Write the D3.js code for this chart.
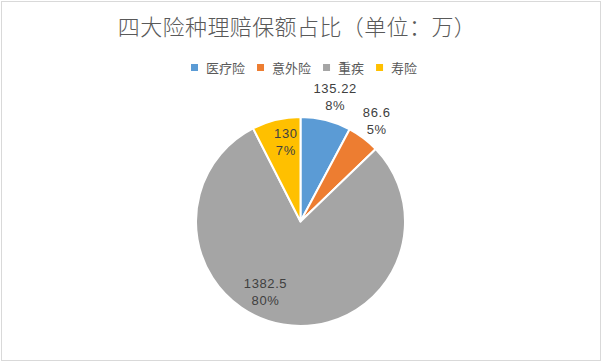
<!DOCTYPE html>
<html>
<head>
<meta charset="utf-8">
<script src="https://cdn.jsdelivr.net/npm/d3@7"></script>
<style>
  body { margin: 0; background: #fff; }
  svg { display: block; font-family: "Noto Sans CJK SC", "Microsoft YaHei", sans-serif; }
</style>
</head>
<body>
<div id="chart"></div>
<script>
// chart data
const categories = ["医疗险", "意外险", "重疾", "寿险"];
const values = [135.22, 86.6, 1382.5, 130];
const percentLabels = ["8%", "5%", "80%", "7%"];
const colors = ["#5B9BD5", "#ED7D31", "#A5A5A5", "#FFC000"];

// label placement (radius as fraction of pie radius, angle shift in degrees)
const labelPlace = [
  {r: 1.24, da: 1.5},
  {r: 1.21, da: 0},
  {r: 0.75, da: 17},
  {r: 0.77, da: 3}
];

const width = 602, height = 362;
const cx = 300.5, cy = 221.5, radius = 104.5;

let svg = d3.select("#chart")
  .append("svg")
    .attr("width", width)
    .attr("height", height);

// outer frame
svg.append("rect")
  .attr("x", 1.5).attr("y", 1.5)
  .attr("width", width - 3).attr("height", height - 3)
  .attr("fill", "#fff")
  .attr("stroke", "#d9d9d9")
  .attr("stroke-width", 1);

// title
svg.append("text")
  .attr("x", width / 2 - 4)
  .attr("y", 35)
  .attr("text-anchor", "middle")
  .attr("fill", "#595959")
  .attr("font-size", "22px")
  .attr("font-weight", 300)
  .attr("letter-spacing", "0.4px")
  .text("四大险种理赔保额占比（单位：万）");

// legend
let legend = svg.append("g");
let lx = 0;
categories.forEach(function(c, i) {
  let item = legend.append("g").attr("transform", "translate(" + lx + ",0)");
  item.append("rect")
    .attr("x", 0).attr("y", 64)
    .attr("width", 7).attr("height", 7)
    .attr("fill", colors[i]);
  let t = item.append("text")
    .attr("x", 15).attr("y", 73)
    .attr("fill", "#595959")
    .attr("font-size", "13px")
    .text(c);
  lx += 15 + t.node().getComputedTextLength() + 12;
});
legend.attr("transform", "translate(191,0)");

// pie
let pie = d3.pie().sort(null).value(d => d);
let arcs = pie(values);
let arc = d3.arc().innerRadius(0).outerRadius(radius);

let g = svg.append("g").attr("transform", "translate(" + cx + "," + cy + ")");

g.selectAll("path")
  .data(arcs)
  .enter().append("path")
    .attr("d", arc)
    .attr("fill", (d, i) => colors[i])
    .attr("stroke", "#fff")
    .attr("stroke-width", 2)
    .attr("stroke-linejoin", "round");

// data labels
let labels = g.selectAll("g.lbl")
  .data(arcs)
  .enter().append("g")
    .attr("class", "lbl")
    .attr("transform", function(d, i) {
      let a = (d.startAngle + d.endAngle) / 2 + labelPlace[i].da * Math.PI / 180;
      let r = radius * labelPlace[i].r;
      return "translate(" + (Math.sin(a) * r) + "," + (-Math.cos(a) * r) + ")";
    });

labels.append("text")
  .attr("text-anchor", "middle")
  .attr("y", -4)
  .attr("fill", "#404040")
  .attr("font-size", "13px")
  .attr("letter-spacing", "0.6px")
  .attr("font-family", "'Liberation Sans', sans-serif")
  .text((d, i) => values[i]);

labels.append("text")
  .attr("text-anchor", "middle")
  .attr("y", 13)
  .attr("fill", "#404040")
  .attr("font-size", "13px")
  .attr("letter-spacing", "0.6px")
  .attr("font-family", "'Liberation Sans', sans-serif")
  .text((d, i) => percentLabels[i]);
</script>
</body>
</html>
